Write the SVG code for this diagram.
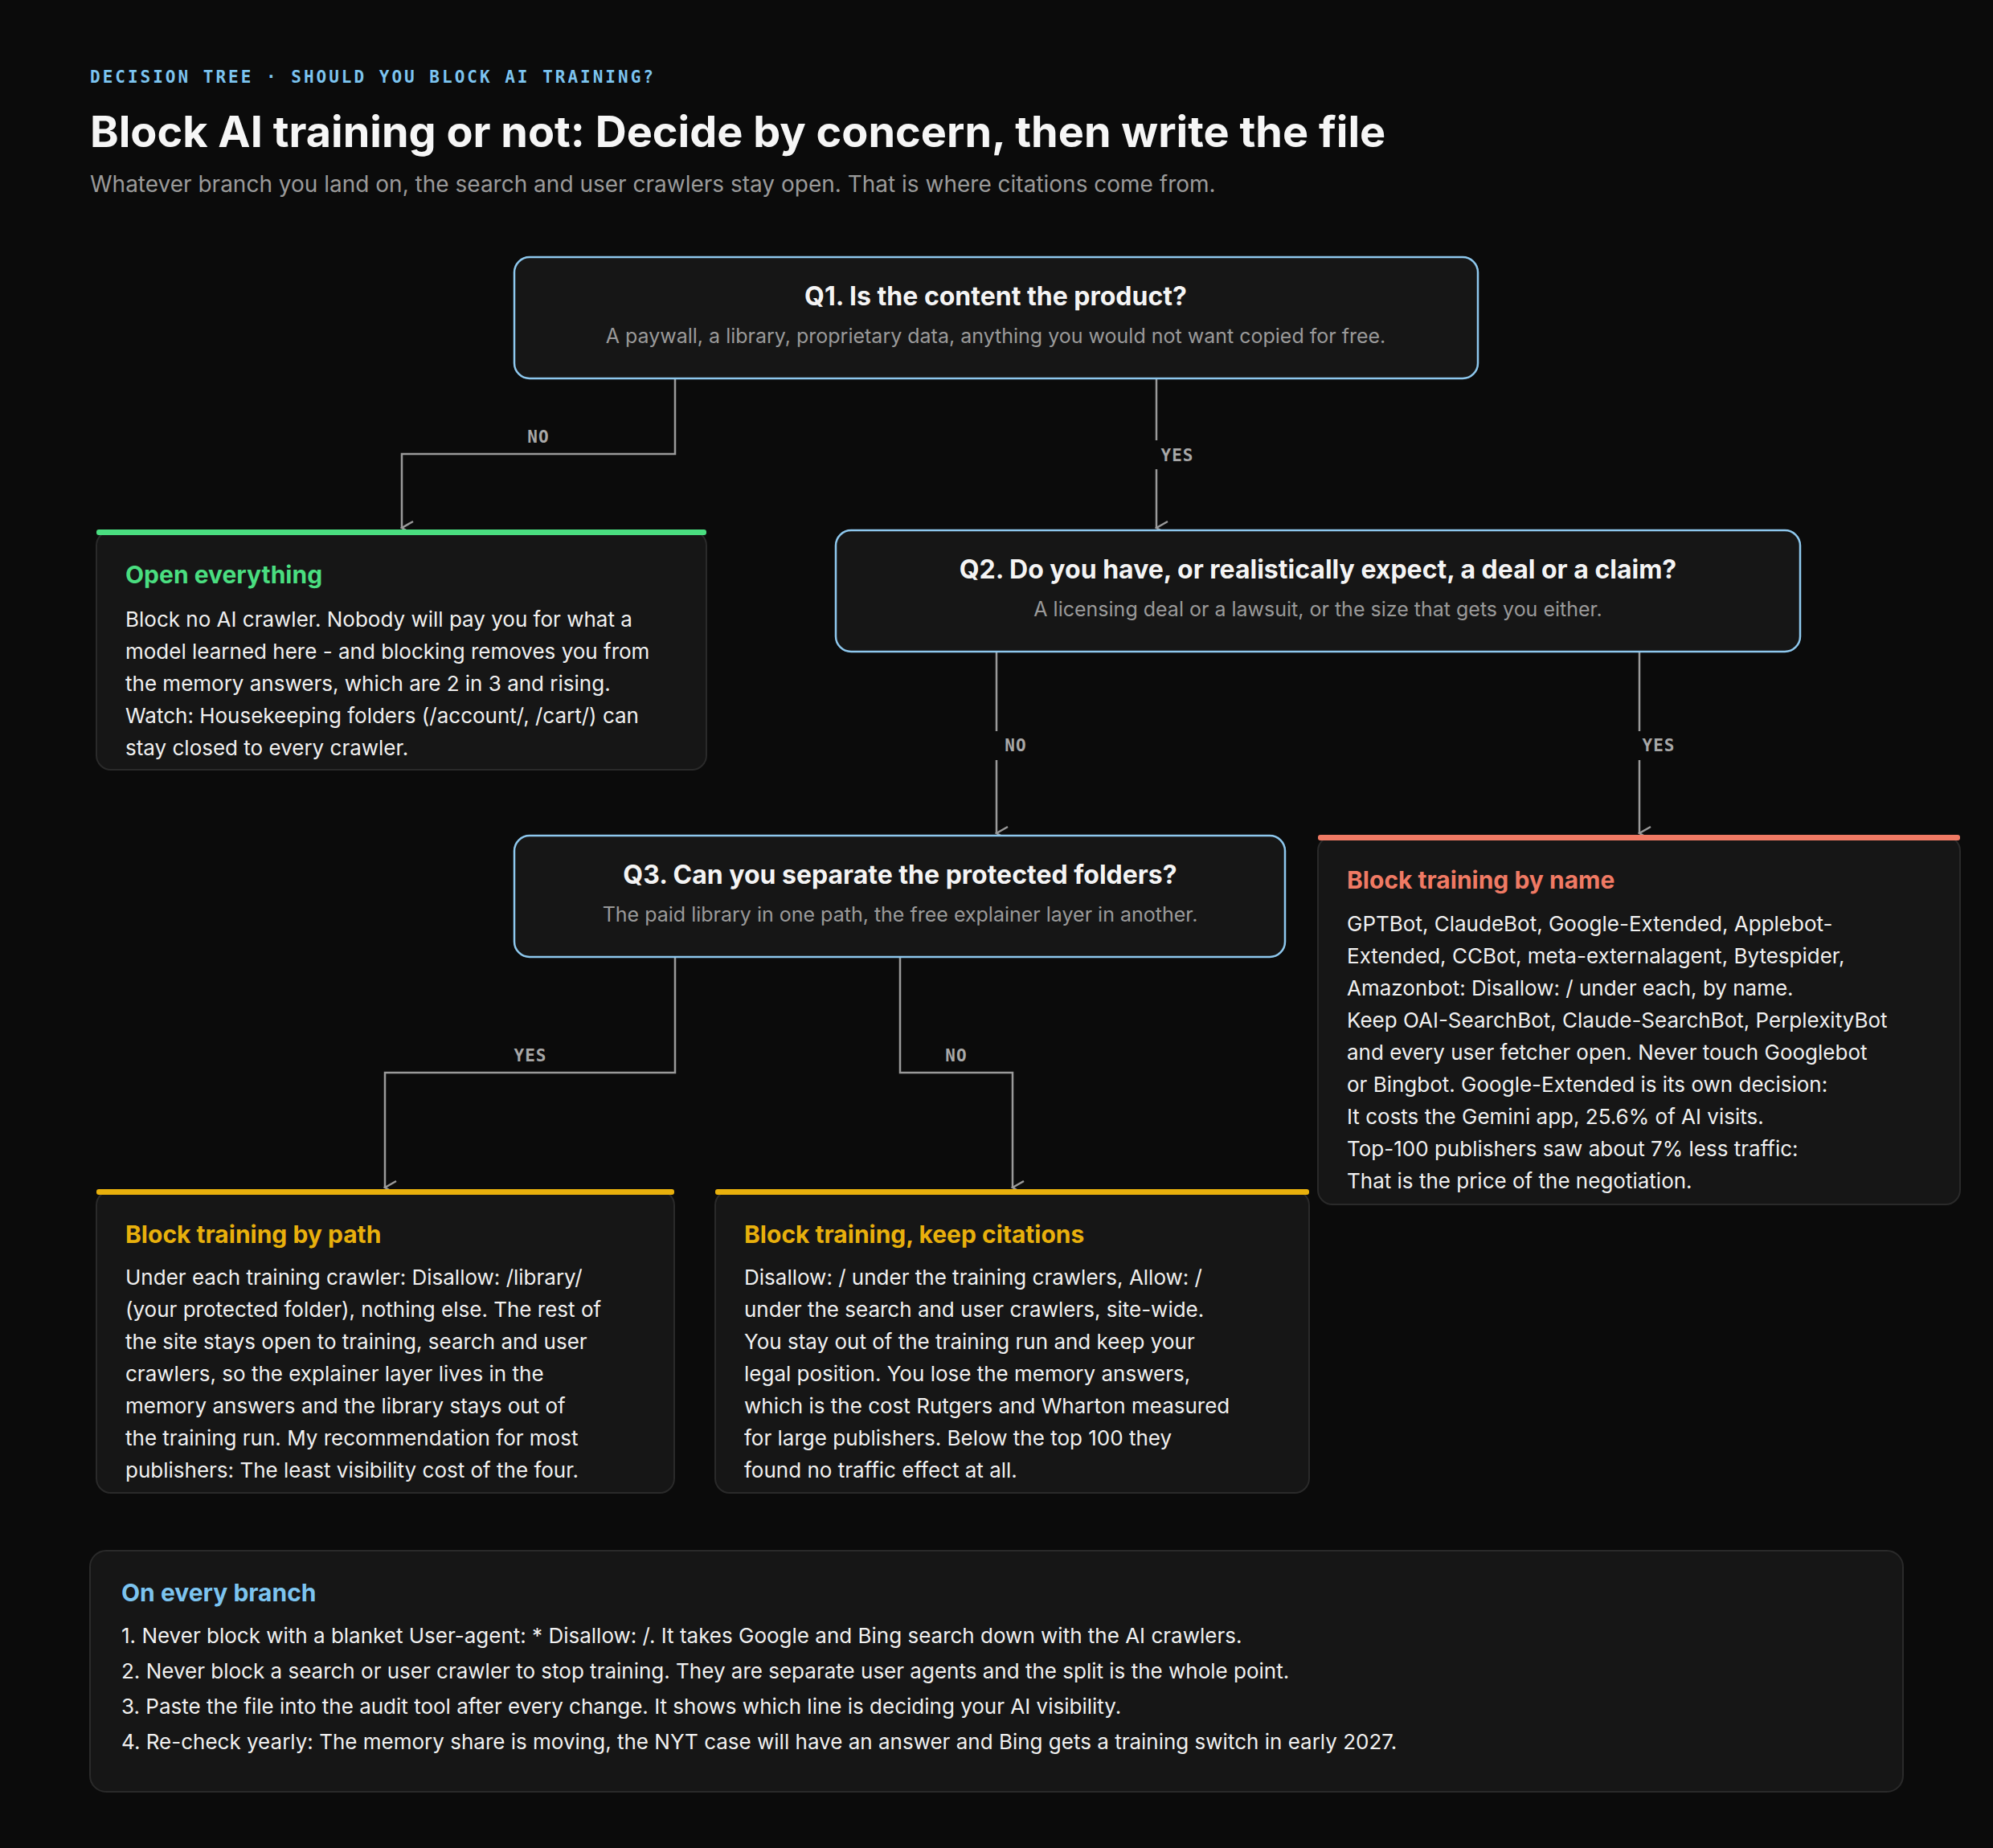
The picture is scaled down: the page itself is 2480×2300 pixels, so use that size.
<svg xmlns="http://www.w3.org/2000/svg" width="2480" height="2300" viewBox="0 0 2480 2300">
<defs>
<style>
.q{fill:#161616;stroke:#8ec8ee;stroke-width:2.5}
.o{fill:#161616;stroke:#2a2a2a;stroke-width:2}
.qt{font-family:Inter,"Liberation Sans",sans-serif;font-weight:700;font-size:32px;fill:#f4f4f4;text-anchor:middle}
.qs{font-family:Inter,"Liberation Sans",sans-serif;font-size:25px;fill:#9a9a9a;text-anchor:middle}
.ot{font-family:Inter,"Liberation Sans",sans-serif;font-weight:700;font-size:30px}
.b{font-family:Inter,"Liberation Sans",sans-serif;font-size:26px;fill:#f0f0f0}
.c{fill:none;stroke:#9a9a9a;stroke-width:2.5}
.l{font-family:"DejaVu Sans Mono","Liberation Mono",monospace;font-weight:700;font-size:21px;fill:#a8a8a8;text-anchor:middle;letter-spacing:1px}
</style>
<marker id="a" viewBox="0 0 20 20" refX="10" refY="18" markerWidth="20" markerHeight="20" markerUnits="userSpaceOnUse" orient="auto-start-reverse">
<path d="M2 4 L10 18 L18 4" fill="none" stroke="#9a9a9a" stroke-width="2.5"/>
</marker>
</defs>
<rect width="2480" height="2300" fill="#0b0b0b"/>
<g id="header">
<text x="112" y="103" font-family="DejaVu Sans Mono,Liberation Mono,monospace" font-weight="700" font-size="21" fill="#7cc4f0" letter-spacing="3">DECISION TREE · SHOULD YOU BLOCK AI TRAINING?</text>
<text x="112" y="183" font-family="Inter,Liberation Sans,sans-serif" font-weight="700" font-size="54" fill="#f6f6f6">Block AI training or not: Decide by concern, then write the file</text>
<text x="112" y="239" font-family="Inter,Liberation Sans,sans-serif" font-size="28" fill="#9a9a9a">Whatever branch you land on, the search and user crawlers stay open. That is where citations come from.</text>
</g>
<g id="connectors">
<path class="c" d="M840 472 V565 H500 V657" marker-end="url(#a)"/>
<path class="c" d="M1439 472 V657" marker-end="url(#a)"/>
<path class="c" d="M1240 812 V1037" marker-end="url(#a)"/>
<path class="c" d="M2040 812 V1037" marker-end="url(#a)"/>
<path class="c" d="M840 1192 V1335 H479 V1478" marker-end="url(#a)"/>
<path class="c" d="M1120 1192 V1335 H1260 V1478" marker-end="url(#a)"/>
<rect x="1435" y="548" width="60" height="36" fill="#0b0b0b"/>
<rect x="1236" y="910" width="50" height="36" fill="#0b0b0b"/>
<rect x="2036" y="910" width="60" height="36" fill="#0b0b0b"/>
<text class="l" x="670" y="551">NO</text>
<text class="l" x="1465" y="574">YES</text>
<text class="l" x="1264" y="935">NO</text>
<text class="l" x="2064" y="935">YES</text>
<text class="l" x="660" y="1321">YES</text>
<text class="l" x="1190" y="1321">NO</text>
</g>
<g id="q1">
<rect class="q" x="640" y="320" width="1199" height="151" rx="19"/>
<text class="qt" x="1239" y="380">Q1. Is the content the product?</text>
<text class="qs" x="1239" y="427">A paywall, a library, proprietary data, anything you would not want copied for free.</text>
</g>
<g id="q2">
<rect class="q" x="1040" y="660" width="1200" height="151" rx="19"/>
<text class="qt" x="1640" y="720">Q2. Do you have, or realistically expect, a deal or a claim?</text>
<text class="qs" x="1640" y="767">A licensing deal or a lawsuit, or the size that gets you either.</text>
</g>
<g id="q3">
<rect class="q" x="640" y="1040" width="959" height="151" rx="19"/>
<text class="qt" x="1120" y="1100">Q3. Can you separate the protected folders?</text>
<text class="qs" x="1120" y="1147">The paid library in one path, the free explainer layer in another.</text>
</g>
<g id="open">
<rect class="o" x="120" y="661" width="759" height="297" rx="18"/>
<rect x="120" y="659" width="759" height="7" rx="3" fill="#4ade80"/>
<text class="ot" x="156" y="726" fill="#4ade80">Open everything</text>
<text class="b" x="156" y="780">Block no AI crawler. Nobody will pay you for what a</text>
<text class="b" x="156" y="820">model learned here - and blocking removes you from</text>
<text class="b" x="156" y="860">the memory answers, which are 2 in 3 and rising.</text>
<text class="b" x="156" y="900">Watch: Housekeeping folders (/account/, /cart/) can</text>
<text class="b" x="156" y="940">stay closed to every crawler.</text>
</g>
<g id="byname">
<rect class="o" x="1640" y="1041" width="799" height="458" rx="18"/>
<rect x="1640" y="1039" width="799" height="7" rx="3" fill="#f07a64"/>
<text class="ot" x="1676" y="1106" fill="#f07a64">Block training by name</text>
<text class="b" x="1676" y="1159">GPTBot, ClaudeBot, Google-Extended, Applebot-</text>
<text class="b" x="1676" y="1199">Extended, CCBot, meta-externalagent, Bytespider,</text>
<text class="b" x="1676" y="1239">Amazonbot: Disallow: / under each, by name.</text>
<text class="b" x="1676" y="1279">Keep OAI-SearchBot, Claude-SearchBot, PerplexityBot</text>
<text class="b" x="1676" y="1319">and every user fetcher open. Never touch Googlebot</text>
<text class="b" x="1676" y="1359">or Bingbot. Google-Extended is its own decision:</text>
<text class="b" x="1676" y="1399">It costs the Gemini app, 25.6% of AI visits.</text>
<text class="b" x="1676" y="1439">Top-100 publishers saw about 7% less traffic:</text>
<text class="b" x="1676" y="1479">That is the price of the negotiation.</text>
</g>
<g id="bypath">
<rect class="o" x="120" y="1482" width="719" height="376" rx="18"/>
<rect x="120" y="1480" width="719" height="7" rx="3" fill="#e8b00c"/>
<text class="ot" x="156" y="1547" fill="#e8b00c">Block training by path</text>
<text class="b" x="156" y="1599">Under each training crawler: Disallow: /library/</text>
<text class="b" x="156" y="1639">(your protected folder), nothing else. The rest of</text>
<text class="b" x="156" y="1679">the site stays open to training, search and user</text>
<text class="b" x="156" y="1719">crawlers, so the explainer layer lives in the</text>
<text class="b" x="156" y="1759">memory answers and the library stays out of</text>
<text class="b" x="156" y="1799">the training run. My recommendation for most</text>
<text class="b" x="156" y="1839">publishers: The least visibility cost of the four.</text>
</g>
<g id="keepcit">
<rect class="o" x="890" y="1482" width="739" height="376" rx="18"/>
<rect x="890" y="1480" width="739" height="7" rx="3" fill="#e8b00c"/>
<text class="ot" x="926" y="1547" fill="#e8b00c">Block training, keep citations</text>
<text class="b" x="926" y="1599">Disallow: / under the training crawlers, Allow: /</text>
<text class="b" x="926" y="1639">under the search and user crawlers, site-wide.</text>
<text class="b" x="926" y="1679">You stay out of the training run and keep your</text>
<text class="b" x="926" y="1719">legal position. You lose the memory answers,</text>
<text class="b" x="926" y="1759">which is the cost Rutgers and Wharton measured</text>
<text class="b" x="926" y="1799">for large publishers. Below the top 100 they</text>
<text class="b" x="926" y="1839">found no traffic effect at all.</text>
</g>
<g id="everybranch">
<rect class="o" x="112" y="1930" width="2256" height="300" rx="20"/>
<text class="ot" x="151" y="1993" fill="#7cc4f0" font-size="29">On every branch</text>
<text class="b" x="151" y="2045">1. Never block with a blanket User-agent: * Disallow: /. It takes Google and Bing search down with the AI crawlers.</text>
<text class="b" x="151" y="2089">2. Never block a search or user crawler to stop training. They are separate user agents and the split is the whole point.</text>
<text class="b" x="151" y="2133">3. Paste the file into the audit tool after every change. It shows which line is deciding your AI visibility.</text>
<text class="b" x="151" y="2177">4. Re-check yearly: The memory share is moving, the NYT case will have an answer and Bing gets a training switch in early 2027.</text>
</g>
</svg>
